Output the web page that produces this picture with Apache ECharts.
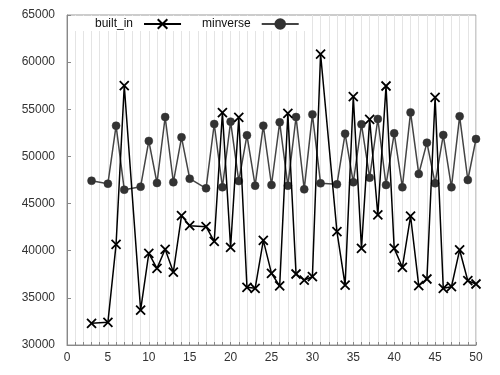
<!DOCTYPE html>
<html>
<head>
<meta charset="utf-8">
<script src="https://cdn.jsdelivr.net/npm/echarts@6/dist/echarts.min.js"></script>
<style>html,body{margin:0;padding:0;background:#fff;}#c{width:500px;height:375px;}</style>
</head>
<body>
<div id="c"></div>
<script>
const xs = [3,5,6,7,9,10,11,12,13,14,15,17,18,19,20,21,22,23,24,25,26,27,28,29,30,31,33,34,35,36,37,38,39,40,41,42,43,44,45,46,47,48,49,50];
const builtIn = [32300,32400,40680,57500,33710,39720,38130,40150,37740,43720,42650,42550,41000,54640,40360,54150,36120,36010,41100,37600,36260,54570,37530,36890,37240,60860,42020,36360,56340,40250,53940,43790,57470,40250,38240,43680,36290,37000,56270,36010,36180,40080,36820,36470];
const minverse = [47420,47110,53260,46470,46790,51640,47180,54180,47260,52030,47640,46620,53440,46730,53690,47390,52240,46900,53260,46970,53620,46900,54180,46510,54460,47150,47040,52410,47260,53400,47750,53970,46970,52450,46730,54670,48140,51460,47150,52270,46730,54250,47500,51850];
const seriesNames = ['built_in', 'minverse'];
const xTicks = {min: 0, max: 50, step: 5};
const yTicks = {min: 30000, max: 65000, step: 5000};

const pair = (vals) => xs.map((x, i) => [x, vals[i]]);
const font = 'Liberation Sans, Arial, sans-serif';
const chart = echarts.init(document.getElementById('c'));
chart.setOption({
  animation: false,
  backgroundColor: '#fff',
  grid: {left: 67, right: 24, top: 15, bottom: 30, show: true, borderColor: '#999', borderWidth: 1, containLabel: false},
  legend: {
    left: 68, top: 16, padding: [2, 10, 1, 27], itemGap: 20,
    align: 'right', itemWidth: 37, itemHeight: 12,
    backgroundColor: '#fff',
    textStyle: {fontFamily: font, fontSize: 12, color: '#111', padding: [0, 6, 0, 0]},
    data: seriesNames
  },
  xAxis: {
    type: 'value', min: xTicks.min, max: xTicks.max, interval: xTicks.step,
    axisLine: {show: true, onZero: false, lineStyle: {color: '#888'}},
    axisTick: {show: true, inside: true, length: 3, lineStyle: {color: '#888'}},
    minorTick: {show: true, splitNumber: 5, length: 3, lineStyle: {color: '#888'}},
    axisLabel: {fontFamily: font, fontSize: 12, color: '#333', margin: 7},
    splitLine: {show: true, lineStyle: {color: '#e4e4e4', width: 1}},
    minorSplitLine: {show: true, lineStyle: {color: '#e4e4e4', width: 1}}
  },
  yAxis: {
    type: 'value', min: yTicks.min, max: yTicks.max, interval: yTicks.step,
    axisLine: {show: true, onZero: false, lineStyle: {color: '#888'}},
    axisTick: {show: true, inside: true, length: 4, lineStyle: {color: '#888'}},
    axisLabel: {fontFamily: font, fontSize: 12, color: '#333', margin: 12, formatter: (v) => String(v)},
    splitLine: {show: false}
  },
  series: [
    {
      name: seriesNames[0], type: 'line', data: pair(builtIn), z: 3,
      symbol: 'path://M0,0 L10,10 M10,0 L0,10', symbolSize: 9,
      lineStyle: {color: '#000', width: 1.5},
      itemStyle: {color: '#000', borderColor: '#000', borderWidth: 1.8}
    },
    {
      name: seriesNames[1], type: 'line', data: pair(minverse), z: 2,
      symbol: 'circle', symbolSize: 8,
      lineStyle: {color: '#444', width: 1.5},
      itemStyle: {color: '#333', borderColor: '#333', borderWidth: 0.5}
    }
  ]
});
</script>
</body>
</html>
